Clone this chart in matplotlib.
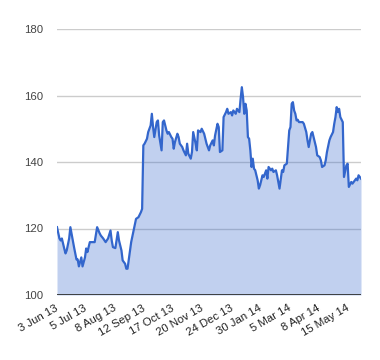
import matplotlib
matplotlib.use("Agg")
import matplotlib.pyplot as plt
import numpy as np

# trading-day index and value
day_idx = [0, 2, 3, 4, 6, 7, 8, 10, 11, 13, 14, 16, 17, 18, 20, 21, 23, 24, 25, 27,
           29, 31, 33, 35, 36, 38, 40, 42, 44, 45, 46, 48, 50, 51, 53, 54, 56, 57, 58, 60,
           61, 63, 65, 67, 69, 70, 71, 72, 74, 75, 77, 78, 79, 80, 82, 83, 84, 86, 87, 88,
           90, 91, 92, 94, 95, 96, 97, 99, 100, 101, 103, 104, 106, 107, 108, 110, 111, 112, 114, 115,
           116, 118, 119, 121, 122, 123, 125, 126, 128, 129, 130, 132, 133, 134, 136, 137, 139, 140, 141, 143,
           144, 145, 147, 148, 150, 151, 152, 153, 154, 155, 156, 157, 158, 159, 160, 161, 162, 163, 165, 166,
           167, 169, 170, 172, 173, 174, 176, 177, 178, 180, 181, 182, 183, 185, 186, 187, 189, 190, 191, 192,
           193, 194, 195, 196, 197, 198, 199, 200, 202, 203, 205, 206, 207, 209, 210, 211, 213, 214, 216, 217,
           218, 220, 221, 222, 224, 225, 227, 228, 229, 230, 231, 232, 233, 235, 236, 238, 239, 240, 242, 243,
           244, 246, 247, 248, 250]
values = [120.4, 117.0, 116.4, 117.0, 113.9, 112.5, 113.4, 117.0, 120.4, 116.4, 114.4, 110.7, 110.7, 108.6, 111.3, 108.6, 111.3, 114.0, 112.9, 115.9,
          115.9, 115.9, 120.4, 118.6, 117.9, 117.0, 115.9, 117.0, 119.4, 116.4, 114.4, 114.1, 118.9, 116.4, 113.4, 110.4, 109.4, 107.9, 107.9, 113.4,
          115.9, 119.4, 122.9, 123.4, 124.9, 125.9, 145.0, 145.5, 147.0, 149.0, 151.0, 154.5, 150.5, 147.5, 152.0, 152.5, 148.0, 143.5, 152.0, 152.5,
          149.5, 148.5, 149.0, 147.5, 147.0, 144.0, 146.0, 148.5, 147.5, 145.5, 144.5, 143.5, 142.0, 145.5, 142.5, 141.0, 143.0, 149.0, 145.5, 143.5,
          149.5, 149.0, 150.0, 148.5, 147.0, 145.5, 143.5, 145.0, 146.5, 145.0, 148.0, 151.5, 150.5, 143.0, 143.5, 153.5, 155.0, 156.0, 154.5, 155.0,
          154.0, 155.5, 154.5, 156.0, 155.0, 159.0, 162.5, 159.5, 154.5, 157.5, 155.5, 147.5, 147.0, 143.5, 138.5, 141.0, 138.0, 137.5, 134.5, 132.0,
          133.0, 136.0, 135.5, 137.5, 135.0, 138.5, 137.5, 138.0, 137.0, 137.5, 136.0, 134.0, 132.0, 137.5, 137.0, 139.0, 139.5, 144.5, 149.5, 150.5,
          157.5, 158.0, 155.5, 154.5, 152.5, 152.7, 152.0, 152.0, 152.0, 151.5, 149.0, 146.5, 144.5, 148.5, 149.0, 147.5, 144.5, 142.0, 141.5, 140.5,
          138.5, 139.0, 140.5, 143.0, 146.5, 147.5, 149.0, 151.5, 153.5, 156.5, 155.0, 156.0, 153.5, 152.0, 135.5, 139.0, 139.5, 132.5, 134.0, 133.5,
          134.0, 135.0, 134.5, 136.0, 135.0]

tick_idx = [0, 24, 48, 72, 96, 120, 144, 168, 192, 216, 240]
tick_labels = ["3 Jun 13", "5 Jul 13", "8 Aug 13", "12 Sep 13", "17 Oct 13", "20 Nov 13",
               "24 Dec 13", "30 Jan 14", "5 Mar 14", "8 Apr 14", "15 May 14"]
y_ticks = [100, 120, 140, 160, 180]

plt.rcParams['font.family'] = ['Liberation Sans', 'DejaVu Sans']

fig = plt.figure(figsize=(3.8, 3.6), dpi=100)
ax = fig.add_axes([57/380, 1-295/360, (361-57)/380, (295-29)/360])

line_color = "#3366cc"
ax.fill_between(day_idx, values, 100, color=line_color, alpha=0.3, linewidth=0)
ax.plot(day_idx, values, color=line_color, linewidth=1.6, solid_joinstyle='round')

ax.set_xlim(0, 250)
ax.set_ylim(100, 180)
ax.set_yticks(y_ticks)
ax.set_yticklabels([str(v) for v in y_ticks])
for v in y_ticks[1:]:
    ax.axhline(v, color="#cccccc", linewidth=1.0, zorder=0)
ax.axhline(100, color="#333333", linewidth=1.3, zorder=3)

ax.set_xticks(tick_idx)
ax.set_xticklabels(tick_labels, rotation=30, ha='right', va='center', rotation_mode='anchor')

for s in ax.spines.values():
    s.set_visible(False)
ax.tick_params(axis='y', length=0, pad=10, labelsize=8.2, labelcolor="#444444")
ax.tick_params(axis='x', length=0, pad=9, labelsize=8.2, labelcolor="#222222")

fig.savefig("out.png", dpi=100)
